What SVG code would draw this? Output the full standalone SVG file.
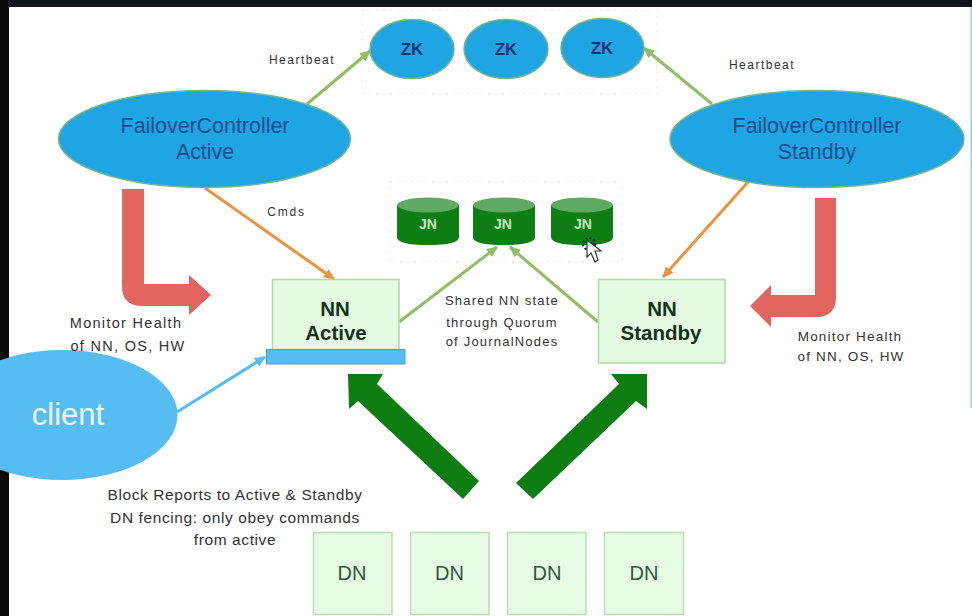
<svg xmlns="http://www.w3.org/2000/svg" width="972" height="616" viewBox="0 0 972 616">
  <style>
    text { font-family: "Liberation Sans", Arial, sans-serif; text-anchor: middle; }
    .fc { fill: #1fa4e4; stroke: #6fb98a; stroke-width: 1.5; }
    .fc-label { fill: #0f4f8e; font-size: 21.400px; }
    .zk-label { fill: #0a3670; font-size: 17px; font-weight: bold; }
    .jn-body { fill: #0d7e14; }
    .jn-top { fill: #5eaa63; }
    .jn-label { fill: #c6ecc4; font-size: 14px; font-weight: bold; }
    .nn { fill: #e4fbe2; stroke: #b5d8ab; stroke-width: 1.5; }
    .nn-label { fill: #14321a; font-size: 20.500px; font-weight: bold; }
    .dn { fill: #e6fbe4; stroke: #bcdcb4; stroke-width: 1.5; }
    .dn-label { fill: #2c5a3c; font-size: 20px; }
    .note { fill: #333; font-size: 12px; letter-spacing: 1.5px; }
    .note-left { font-size: 14.500px; letter-spacing: 1.300px; }
    .note-right { font-size: 13.500px; letter-spacing: 1.200px; }
    .note-mid { font-size: 13px; letter-spacing: 1.200px; }
    .note-wide { font-size: 15.500px; letter-spacing: .6px; }
    .group-box { fill: none; stroke: #dfe8da; stroke-width: 1; stroke-dasharray: 2 5; }
    .green { stroke: #8fbf63; stroke-width: 3; fill: none; marker-end: url(#head-green); }
    .orange { stroke: #f0913f; stroke-width: 3; fill: none; marker-end: url(#head-orange); }
    .sky { stroke: #56bdf2; stroke-width: 3; fill: none; marker-end: url(#head-sky); }
    .fat-red { fill: #e2665f; }
    .fat-green { fill: #0d7d12; }
  </style>
  <defs>
    <marker id="head-green" markerUnits="userSpaceOnUse" markerWidth="12" markerHeight="12" refX="10" refY="6" orient="auto"><path d="M0,1 L11,6 L0,11 Z" fill="#8fbf63"/></marker>
    <marker id="head-orange" markerUnits="userSpaceOnUse" markerWidth="12" markerHeight="12" refX="10" refY="6" orient="auto"><path d="M0,1 L11,6 L0,11 Z" fill="#f0913f"/></marker>
    <marker id="head-sky" markerUnits="userSpaceOnUse" markerWidth="12" markerHeight="12" refX="10" refY="6" orient="auto"><path d="M0,1 L11,6 L0,11 Z" fill="#56bdf2"/></marker>
  </defs>

  <!-- slide and the dark frame around it -->
  <rect width="972" height="616" fill="#fff"/>
  <rect width="972" height="7" fill="#10141a"/>
  <rect width="9" height="616" fill="#0a0a0a"/>
  <rect x="970.500" y="7" width="1.500" height="401" fill="#7fd4f0"/>

  <rect class="group-box" x="362" y="10" width="295" height="84"/>
  <rect class="group-box" x="390" y="182" width="232" height="80"/>

  <g id="connectors">
    <path class="green" d="M307,104 L370,51"/>
    <path class="green" d="M712,104 L644,48"/>
    <path class="orange" d="M205,188 L334,279"/>
    <path class="orange" d="M748,182 L663,277"/>
    <path class="green" d="M399,322 L497,247"/>
    <path class="green" d="M598,322 L510,247"/>
    <path class="sky" d="M177,412 L265,357"/>
    <path class="fat-red" d="M122,189 H144 V284 H189 V275 L211,295 L189,315 V306 H142 Q122,306 122,286 Z"/>
    <path class="fat-red" d="M815,198 H836 V297 Q836,317 816,317 H771 V327 L750,306 L771,285 V295 H815 Z"/>
    <path class="fat-green" d="M348,374 H383 L377,384 L479,481 L463,499 L358,401 L349,409 Z"/>
    <path class="fat-green" d="M647,374 H611 L619,384 L516,483 L533,499 L636,401 L647,409 Z"/>
  </g>

  <g id="zk-1"><ellipse class="fc" cx="412" cy="49" rx="42" ry="29.500"/><text class="zk-label" x="412" y="55">ZK</text></g>
  <g id="zk-2"><ellipse class="fc" cx="506" cy="49" rx="42" ry="29.500"/><text class="zk-label" x="506" y="55">ZK</text></g>
  <g id="zk-3"><ellipse class="fc" cx="602.500" cy="48" rx="41.500" ry="29.500"/><text class="zk-label" x="602" y="54">ZK</text></g>

  <g id="fc-active">
    <ellipse class="fc" cx="204.500" cy="139" rx="146" ry="48.500"/>
    <text class="fc-label" x="205" y="133">FailoverController</text>
    <text class="fc-label" x="205" y="159">Active</text>
  </g>
  <g id="fc-standby">
    <ellipse class="fc" cx="817" cy="139" rx="147" ry="48.500"/>
    <text class="fc-label" x="817" y="133">FailoverController</text>
    <text class="fc-label" x="817" y="159">Standby</text>
  </g>

  <g id="jn-1">
    <path class="jn-body" d="M397,205 V237 Q397,245 428,245 Q459,245 459,237 V205 Z"/>
    <ellipse class="jn-top" cx="428" cy="205" rx="31" ry="7.500"/>
    <text class="jn-label" x="428" y="229">JN</text>
  </g>
  <g id="jn-2">
    <path class="jn-body" d="M473,205 V237 Q473,245 504,245 Q535,245 535,237 V205 Z"/>
    <ellipse class="jn-top" cx="504" cy="205" rx="31" ry="7.500"/>
    <text class="jn-label" x="503" y="229">JN</text>
  </g>
  <g id="jn-3">
    <path class="jn-body" d="M551,205 V237 Q551,245 582,245 Q613,245 613,237 V205 Z"/>
    <ellipse class="jn-top" cx="582" cy="205" rx="31" ry="7.500"/>
    <text class="jn-label" x="583" y="229">JN</text>
  </g>

  <g id="nn-active">
    <rect class="nn" x="272.500" y="279.500" width="126.500" height="72"/>
    <text class="nn-label" x="335" y="316">NN</text>
    <text class="nn-label" x="336" y="340">Active</text>
    <rect x="266.500" y="349.500" width="138.500" height="14.500" fill="#56bdf2" stroke="#4a9fd0"/>
  </g>
  <g id="nn-standby">
    <rect class="nn" x="598.500" y="279.500" width="126.500" height="83.500"/>
    <text class="nn-label" x="662" y="316">NN</text>
    <text class="nn-label" x="661" y="340">Standby</text>
  </g>

  <g id="client">
    <ellipse cx="62" cy="415" rx="115.500" ry="65" fill="#56bdf2"/>
    <text x="68" y="425" font-size="31" fill="#eefaff">client</text>
  </g>

  <g id="dn-1"><rect class="dn" x="313.500" y="532.500" width="78.500" height="82"/><text class="dn-label" x="352" y="580">DN</text></g>
  <g id="dn-2"><rect class="dn" x="410.500" y="532.500" width="78.500" height="82"/><text class="dn-label" x="449.500" y="580">DN</text></g>
  <g id="dn-3"><rect class="dn" x="507.500" y="532.500" width="78.500" height="82"/><text class="dn-label" x="547" y="580">DN</text></g>
  <g id="dn-4"><rect class="dn" x="604.500" y="532.500" width="79" height="82"/><text class="dn-label" x="644" y="580">DN</text></g>

  <!-- free-standing labels -->
  <text class="note" x="302" y="64">Heartbeat</text>
  <text class="note" x="762" y="69">Heartbeat</text>
  <text class="note" x="286.500" y="216" style="letter-spacing:1.800px">Cmds</text>
  <text class="note note-left" x="126" y="328">Monitor Health</text>
  <text class="note note-left" x="128" y="351">of NN, OS, HW</text>
  <text class="note note-right" x="850" y="341">Monitor Health</text>
  <text class="note note-right" x="851" y="361">of NN, OS, HW</text>
  <text class="note note-mid" x="502" y="305">Shared NN state</text>
  <text class="note note-mid" x="502" y="327">through Quorum</text>
  <text class="note note-mid" x="502" y="346">of JournalNodes</text>
  <text class="note note-wide" x="235" y="500">Block Reports to Active &amp; Standby</text>
  <text class="note note-wide" x="235" y="523">DN fencing: only obey commands</text>
  <text class="note note-wide" x="235" y="545">from active</text>

  <!-- pointer resting on the third journal node -->
  <g id="pointer">
    <circle cx="589" cy="244" r="6" fill="none" stroke="#222" stroke-width="2" stroke-dasharray="2 2"/>
    <path d="M587,240 L587,257 L591,253 L595,262 L598,260 L595,251 L601,251 Z" fill="#fff" stroke="#333" stroke-width="1.200"/>
  </g>
</svg>
